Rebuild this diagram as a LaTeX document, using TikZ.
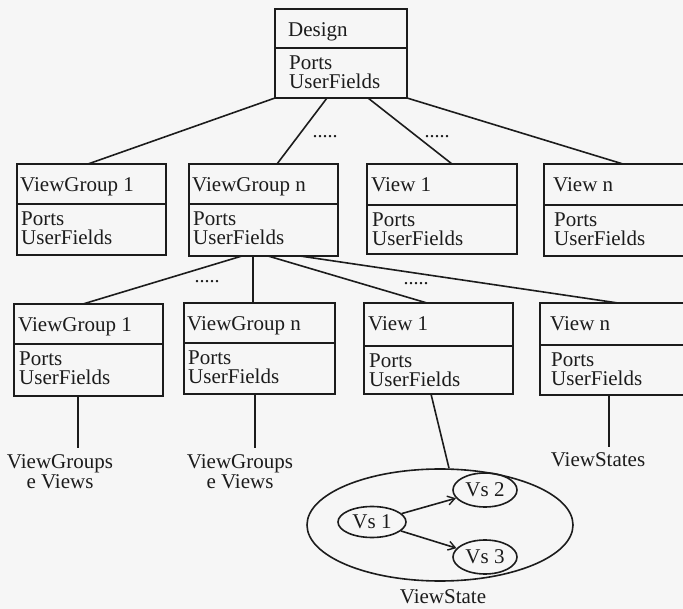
\documentclass[tikz,border=0pt]{standalone}
\usepackage{fontspec}
\setmainfont{Liberation Serif}
\usetikzlibrary{arrows.meta,calc,shapes.geometric}
\definecolor{ink}{RGB}{28,28,28}
\definecolor{paper}{RGB}{246,246,246}
\tikzset{
  boxst/.style={draw=ink, line width=1.7pt, inner sep=0pt, outer sep=0pt},
  txt/.style={anchor=base west, inner sep=0pt, text=ink, font=\fontsize{21}{21}\selectfont},
  lbl/.style={anchor=base, inner sep=0pt, text=ink, font=\fontsize{21}{21}\selectfont},
  conn/.style={draw=ink, line width=1.6pt},
  dotsst/.style={anchor=base, inner sep=0pt, text=ink, font=\fontsize{20}{20}\selectfont},
  vsst/.style={draw=ink, line width=1.6pt, ellipse, inner sep=0pt, text=ink, font=\fontsize{21}{21}\selectfont},
  arr/.style={conn, -{Straight Barb[length=7pt,width=9pt,line width=1.4pt]}},
}
% name, x1, y1, x2, y2, ydiv, title, text x
\newcommand\umlbox[8]{%
  \node[boxst, minimum width={(#4-#2)*1pt}, minimum height={(#5-#3)*1pt}] (#1) at ({(#2+#4)/2},{(#3+#5)/2}) {};
  \draw[conn] ({#2},{#6}) -- ({#4},{#6});
  \node[txt] (#1-t) at ({#8},{#3+28}) {#7};
  \node[txt] (#1-p) at ({#8+1},{#6+22}) {Ports};
  \node[txt] (#1-u) at ({#8+1},{#6+41}) {UserFields};
}
\begin{document}
\begin{tikzpicture}[x=1pt,y=-1pt]
\useasboundingbox (0,0) rectangle (683,609);
\fill[paper] (0,0) rectangle (683,609);
\clip (0,0) rectangle (683,609);

% top
\umlbox{design}{275}{9}{407}{98}{48}{Design}{288}

% row 1
\umlbox{avga}{17}{164}{166}{255}{204}{ViewGroup 1}{20}
\umlbox{avgn}{189}{164}{338}{256}{204}{ViewGroup n}{192}
\umlbox{avw1}{367}{164}{517}{254}{205}{View 1}{371}
\umlbox{avwn}{544}{164}{700}{256}{205}{View n}{553}

% row 2
\umlbox{bvga}{14}{304}{163}{396}{344}{ViewGroup 1}{18}
\umlbox{bvgn}{184}{303}{335}{394}{343}{ViewGroup n}{187}
\umlbox{bvw1}{364}{303}{513}{394}{346}{View 1}{368}
\umlbox{bvwn}{540}{303}{700}{395}{345}{View n}{550}

% dots
\node[dotsst] (d1) at (325,138) {.....};
\node[dotsst] (d2) at (437,138) {.....};
\node[dotsst] (d3) at (207,283) {.....};
\node[dotsst] (d4) at (416,285) {.....};

% design -> row1
\draw[conn] (design.south west) -- (avga.north -| 88,0);
\draw[conn] (design.south -| 327,0) -- (avgn.north -| 277,0);
\draw[conn] (design.south -| 368,0) -- (avw1.north -| 452,0);
\draw[conn] (design.south east) -- (avwn.north -| 623,0);

% row1 VG n -> row2
\draw[conn] (avgn.south -| 242,0) -- (bvga.north -| 83,0);
\draw[conn] (avgn.south -| 253,0) -- (bvgn.north -| 253,0);
\draw[conn] (avgn.south -| 268,0) -- (bvw1.north -| 427,0);
\draw[conn] (avgn.south -| 300,0) -- (bvwn.north -| 618,0);

% labels under row 2
\node[lbl] (lga1) at (60,468) {ViewGroups};
\node[lbl] (lga2) at (60,489) {e Views};
\node[lbl] (lgn1) at (240,468) {ViewGroups};
\node[lbl] (lgn2) at (240,489) {e Views};
\node[lbl] (lws) at (598,467) {ViewStates};
\draw[conn] (bvga.south -| 78,0) -- ([yshift=6pt]lga1.north -| 78,0);
\draw[conn] (bvgn.south -| 255,0) -- ([yshift=6pt]lgn1.north -| 255,0);
\draw[conn] (bvwn.south -| 609,0) -- ([yshift=6pt]lws.north -| 609,0);

% view state ellipse
\node[vsst, minimum width=266pt, minimum height=112pt] (vsbig) at (440,525) {};
\node[vsst, minimum width=68pt, minimum height=31pt] (vs1) at (372,522) {Vs 1};
\node[vsst, minimum width=64pt, minimum height=34pt] (vs2) at (485,490) {Vs 2};
\node[vsst, minimum width=64pt, minimum height=34pt] (vs3) at (485,557) {Vs 3};
\node[lbl] (lvs) at (443,603) {ViewState};
\draw[conn] (bvw1.south -| 431,0) -- (vsbig.north -| 449,0);
\draw[arr] (vs1) -- (vs2);
\draw[arr] (vs1) -- (vs3);
\end{tikzpicture}
\end{document}
